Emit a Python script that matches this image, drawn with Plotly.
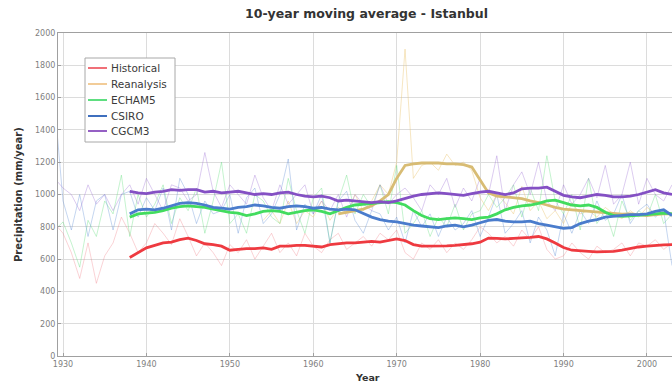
import plotly.graph_objects as go

# ---------------- data ----------------
years_annual = list(range(1929, 2004))
years_ma = list(range(1938, 2004))
years_rean = list(range(1954, 2004))
years_rean_ma = list(range(1963, 2004))

hist_annual = [820, 760, 640, 480, 700, 450, 620, 700, 860, 760,
               640, 700, 820, 760, 690, 850, 740, 620, 700, 640,
               560, 690, 640, 720, 600, 680, 760, 640, 700, 620,
               760, 680, 640, 720, 760, 660, 700, 740, 680, 760,
               720, 780, 640, 600, 700, 660, 720, 640, 700, 660,
               720, 800, 760, 700, 740, 680, 780, 720, 800, 660,
               600, 620, 700, 640, 600, 680, 640, 660, 700, 620,
               700, 680, 720, 660, 700]

rean_annual = [840, 900, 820, 960,
               820, 900, 860, 960, 840, 920, 880, 1000, 900, 960,
               1060, 1000, 1200, 1900, 1100, 1180, 1200, 1150, 1250, 1180,
               1200, 1150, 980, 900, 1000, 950, 880, 1050, 900, 960,
               850, 900, 820, 950, 880, 900, 860, 920, 880, 850,
               900, 860, 920, 880, 900, 860]

echam_annual = [780, 830, 700, 550, 840, 740, 960, 880, 1120, 740,
                1000, 860, 940, 1060, 820, 980, 900, 1040, 760, 960,
                1200, 820, 880, 760, 1000, 960, 860, 820, 1100, 900,
                760, 980, 1040, 700, 960, 1120, 880, 1000, 920, 1060,
                880, 1180, 760, 820, 900, 740, 860, 800, 940, 780,
                880, 900, 1000, 920, 980, 1060, 860, 1040, 900, 1240,
                960, 880, 1000, 780, 1100, 820, 900, 740, 960, 840,
                900, 860, 1000, 820, 880]

csiro_annual = [1560, 960, 780, 1000, 740, 960, 1000, 780, 1000, 1020,
                860, 980, 900, 1040, 780, 1100, 1000, 820, 960, 880,
                900, 1000, 760, 980, 1040, 820, 880, 1000, 1220, 780,
                940, 880, 1000, 700, 960, 1020, 840, 760, 900, 880,
                780, 860, 700, 900, 800, 880, 740, 860, 780, 820,
                900, 740, 860, 1000, 760, 820, 900, 700, 860, 780,
                620, 880, 760, 900, 820, 960, 840, 880, 1000, 820,
                900, 940, 860, 900, 560]

cgcm3_annual = [1100, 1040, 1000, 900, 1060, 940, 1000, 900, 1000, 1060,
                940, 1100, 1000, 900, 1060, 1040, 960, 1000, 1260, 1020,
                920, 1060, 1000, 940, 1120, 980, 900, 1060, 940, 1000,
                1060, 880, 960, 900, 1000, 860, 1000, 940, 900, 1060,
                940, 1000, 1040, 980, 900, 1060, 1000, 1100, 920, 1040,
                960, 1100, 1000, 1240, 900, 1060, 1140, 1000, 1200, 960,
                900, 1060, 940, 1000, 1100, 980, 1180, 940, 1000, 1200,
                940, 1100, 1000, 960, 1060]

hist_ma = [610, 640, 670, 685, 700, 705, 720, 730, 715, 695,
           690, 680, 655, 660, 665, 665, 670, 660, 680, 680,
           685, 685, 680, 675, 690, 695, 700, 700, 705, 710,
           705, 715, 725, 715, 690, 680, 680, 680, 682, 685,
           688, 695, 705, 730, 728, 725, 728, 730, 735, 740,
           725, 700, 672, 655, 650, 648, 645, 645, 648, 655,
           665, 675, 680, 685, 688, 690]

rean_ma = [880, 890, 900, 910, 930, 960, 1000, 1100, 1180, 1190,
           1195, 1195, 1195, 1190, 1190, 1185, 1170, 1090, 1010, 990,
           985, 980, 975, 960, 950, 935, 920, 910, 905, 900,
           895, 890, 885, 880, 878, 880, 875, 870, 875, 880, 880]

echam_ma = [860, 880, 885, 890, 900, 915, 925, 930, 925, 920,
            910, 900, 890, 885, 870, 880, 895, 900, 895, 880,
            890, 900, 905, 895, 880, 900, 920, 935, 940, 945,
            950, 955, 950, 935, 900, 870, 850, 845, 850, 855,
            850, 845, 855, 860, 880, 905, 920, 930, 935, 945,
            960, 965, 950, 935, 930, 935, 920, 890, 870, 865,
            868, 870, 875, 880, 885, 880]

csiro_ma = [880, 905, 910, 905, 915, 930, 945, 950, 945, 935,
            920, 915, 910, 920, 925, 935, 930, 920, 915, 925,
            930, 925, 915, 920, 910, 905, 910, 905, 880, 860,
            845, 835, 830, 820, 810, 805, 800, 795, 805, 810,
            800, 810, 825, 840, 845, 835, 830, 830, 835, 820,
            810, 800, 790, 795, 820, 835, 845, 860, 865, 870,
            875, 875, 880, 895, 905, 870]

cgcm3_ma = [1020, 1010, 1005, 1015, 1020, 1030, 1025, 1030, 1030, 1015,
            1020, 1010, 1015, 1020, 1010, 1000, 1005, 1000, 1010, 1015,
            1000, 990, 985, 990, 980, 960, 965, 960, 955, 950,
            955, 950, 960, 975, 990, 1000, 1005, 1010, 1005, 1000,
            995, 1005, 1015, 1020, 1010, 1000, 1010, 1035, 1040, 1040,
            1045, 1020, 995, 985, 980, 990, 1000, 995, 985, 985,
            990, 1000, 1015, 1030, 1010, 1000]

names = ["Historical", "Reanalysis", "ECHAM5", "CSIRO", "CGCM3"]
xtick_vals = [1930, 1940, 1950, 1960, 1970, 1980, 1990, 2000]
title_text = "10-year moving average - Istanbul"
xlabel = "Year"
ylabel = "Precipitation (mm/year)"

thick_colors = ["#ee3a40", "#d8bc74", "#42dc5e", "#4a7ccc", "#8450c4"]
legend_colors = ["#f07078", "#f2cc98", "#5ede80", "#3f6fbe", "#9560c4"]
thin_colors = ["rgba(240,110,120,0.30)", "rgba(235,200,120,0.45)",
               "rgba(80,220,110,0.33)", "rgba(80,130,210,0.33)",
               "rgba(150,100,210,0.33)"]

annual = [(years_annual, hist_annual), (years_rean, rean_annual),
          (years_annual, echam_annual), (years_annual, csiro_annual),
          (years_annual, cgcm3_annual)]
ma = [(years_ma, hist_ma), (years_rean_ma, rean_ma), (years_ma, echam_ma),
      (years_ma, csiro_ma), (years_ma, cgcm3_ma)]

FONT = "DejaVu Sans, Liberation Sans, Arial, sans-serif"

fig = go.Figure()
for i, (xs, ys) in enumerate(annual):
    fig.add_trace(go.Scatter(x=xs, y=ys, mode="lines", showlegend=False,
                             line=dict(color=thin_colors[i], width=1),
                             hoverinfo="skip"))
for i, (xs, ys) in enumerate(ma):
    fig.add_trace(go.Scatter(x=xs, y=ys, mode="lines", name=names[i],
                             showlegend=False,
                             line=dict(color=thick_colors[i], width=2.8)))

axis_common = dict(showgrid=True, gridcolor="#dcdcdc", gridwidth=1,
                   showline=True, linecolor="#a0a0a0", linewidth=1,
                   ticks="inside", ticklen=3, tickcolor="#a0a0a0",
                   zeroline=False, automargin=False,
                   tickfont=dict(family=FONT, size=8, color="#808080"))

# ---- plot-area geometry (pixels) ----
L, T, W, H = 58, 33, 614, 323
def px(x):
    return (x - L) / W
def py(y):
    return (T + H - y) / H

shapes = [dict(type="rect", xref="paper", yref="paper",
               x0=px(85), x1=px(175), y0=py(142), y1=py(58),
               line=dict(color="#a8a8a8", width=1), fillcolor="white",
               layer="above")]
annotations = []
rows = [68, 84, 100, 116, 131]
for i, name in enumerate(names):
    shapes.append(dict(type="line", xref="paper", yref="paper",
                       x0=px(88), x1=px(107), y0=py(rows[i]), y1=py(rows[i]),
                       line=dict(color=legend_colors[i], width=2), layer="above"))
    annotations.append(dict(xref="paper", yref="paper", x=px(109), y=py(rows[i]),
                            xanchor="left", yanchor="middle", showarrow=False,
                            text=name, font=dict(family=FONT, size=10.5, color="#3a3a3a")))

annotations.append(dict(xref="paper", yref="paper", x=px(366), y=py(14),
                        xanchor="center", yanchor="middle", showarrow=False,
                        text="<b>" + title_text + "</b>",
                        font=dict(family=FONT, size=12.5, color="#333333")))
annotations.append(dict(xref="paper", yref="paper", x=px(367), y=py(378),
                        xanchor="center", yanchor="middle", showarrow=False,
                        text="<b>" + xlabel + "</b>",
                        font=dict(family=FONT, size=9.5, color="#333333")))
annotations.append(dict(xref="paper", yref="paper", x=px(18), y=py(195),
                        xanchor="center", yanchor="middle", showarrow=False,
                        textangle=-90,
                        text="<b>" + ylabel + "</b>",
                        font=dict(family=FONT, size=10, color="#333333")))

fig.update_layout(
    width=672, height=385,
    margin=dict(l=L, r=0, t=T, b=385 - T - H),
    paper_bgcolor="white", plot_bgcolor="white",
    font=dict(family=FONT, color="#333333"),
    xaxis=dict(range=[1929.4, 2003.0], tickvals=xtick_vals, mirror=True,
               **axis_common),
    yaxis=dict(range=[0, 2000], dtick=200, mirror=False,
               **axis_common),
    shapes=shapes,
    annotations=annotations,
    showlegend=False,
)

fig.write_html("out.html", config={"displayModeBar": False},
               post_script="document.body.style.margin='0';document.body.style.overflow='hidden';")
